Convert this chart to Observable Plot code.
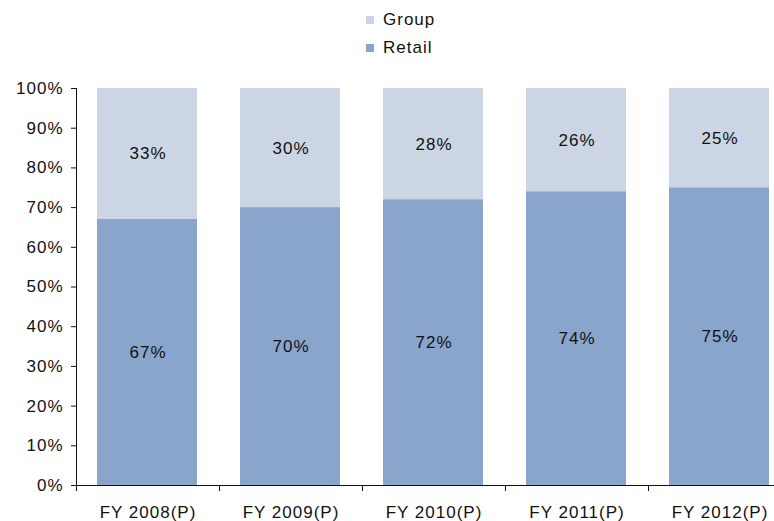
<!DOCTYPE html>
<html>
<head>
<meta charset="utf-8">
<script src="https://cdn.jsdelivr.net/npm/d3@7"></script>
<script src="https://cdn.jsdelivr.net/npm/@observablehq/plot@0.6"></script>
<style>
  html, body { margin: 0; padding: 0; background: #fff; }
  body { width: 774px; height: 521px; overflow: hidden; font-family: "Liberation Sans", Arial, sans-serif; }
  #legend { position: relative; height: 62px; }
  .item { position: absolute; left: 366px; height: 20px; display: flex; align-items: center; font-size: 17px; letter-spacing: 1px; color: #111; }
  .swatch { width: 8px; height: 8px; margin-right: 9px; }
  #chart svg text { letter-spacing: 1px; }
</style>
</head>
<body>
<div id="legend"></div>
<div id="chart"></div>
<script>
// Share of sales by channel, fiscal years 2008–2012 (projected)
const categories = ["FY 2008(P)", "FY 2009(P)", "FY 2010(P)", "FY 2011(P)", "FY 2012(P)"];
const retail = [67, 70, 72, 74, 75];
const group = [33, 30, 28, 26, 25];
const seriesNames = ["Retail", "Group"];
const seriesColors = ["#8aa5cb", "#cbd5e3"];
const yTicks = [0, 10, 20, 30, 40, 50, 60, 70, 80, 90, 100];

// Long table: one row per category and series, Retail stacked first (bottom)
const rows = [];
categories.forEach((c, i) => {
  rows.push({i, category: c, series: "Retail", value: retail[i]});
  rows.push({i, category: c, series: "Group", value: group[i]});
});

// Legend (Group above Retail)
const legend = document.getElementById("legend");
[["Group", 10], ["Retail", 38]].forEach(([name, top]) => {
  const item = document.createElement("div");
  item.className = "item";
  item.style.top = top + "px";
  const sw = document.createElement("span");
  sw.className = "swatch";
  sw.style.background = seriesColors[seriesNames.indexOf(name)];
  const label = document.createElement("span");
  label.textContent = name;
  item.append(sw, label);
  legend.append(item);
});

const stackOpts = {order: seriesNames};

const chart = Plot.plot({
  width: 774,
  height: 459,
  marginTop: 26,
  marginBottom: 36,
  marginLeft: 76,
  marginRight: 0,
  style: {fontFamily: "'Liberation Sans', Arial, sans-serif", fontSize: "17px", color: "#111", background: "white"},
  x: {domain: [0, categories.length], range: [76, 76 + 143 * categories.length], axis: null},
  y: {domain: [0, 100], axis: null},
  color: {domain: seriesNames, range: seriesColors},
  marks: [
    Plot.rectY(rows, Plot.stackY({...stackOpts, x1: "i", x2: d => d.i + 1, y: "value", fill: "series", insetLeft: 21, insetRight: 22})),
    Plot.text(rows, Plot.stackY({...stackOpts, x: d => d.i + 0.5, y: "value", z: "series", text: d => d.value + "%", fill: "#111", fontSize: 17})),
    // y axis
    Plot.axisY({ticks: yTicks, tickFormat: d => d + "%", tickSize: 5, tickPadding: 8, label: null, stroke: "#111", fill: "#111", fontSize: 17}),
    Plot.ruleX([0], {y1: 0, y2: 100, stroke: "#111"}),
    // x axis: baseline, boundary ticks, centered category labels
    Plot.ruleY([0], {x1: 0, x2: categories.length, stroke: "#111"}),
    Plot.axisX({ticks: d3.range(0, categories.length + 1), tickSize: 6, tickFormat: () => "", label: null, stroke: "#111"}),
    Plot.axisX({ticks: categories.map((_, i) => i + 0.5), tickSize: 0, tickPadding: 20, tickFormat: d => categories[d - 0.5], label: null, fill: "#111", fontSize: 17})
  ]
});
document.getElementById("chart").append(chart);
</script>
</body>
</html>
